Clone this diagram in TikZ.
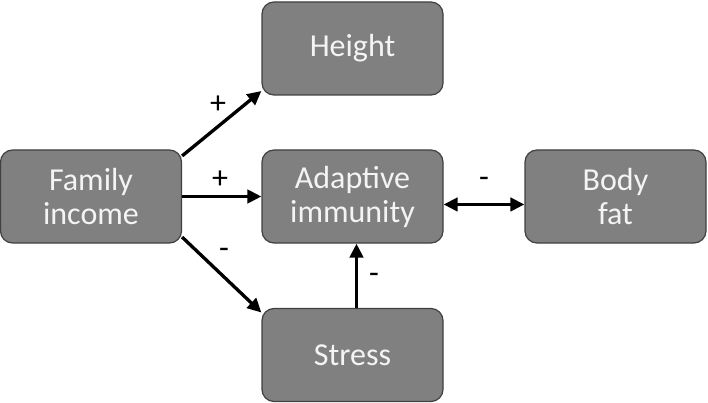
\documentclass[tikz,border=0pt]{standalone}
\usepackage{fontspec}
\setmainfont{Carlito}
\usetikzlibrary{arrows.meta}
\definecolor{boxgray}{HTML}{808080}
\definecolor{boxline}{HTML}{404040}
\definecolor{boxtext}{HTML}{F4F4F4}
\newcommand{\w}{135.75pt}

\begin{document}
\begin{tikzpicture}[x=0.75pt, y=-0.75pt,
    box/.style={draw=boxline, fill=boxgray, rounded corners=9pt, line width=0.9pt, minimum width=\w, minimum height=69.75pt, align=center, text=boxtext, font=\fontsize{24}{25.5}\selectfont, inner sep=0pt},
    link/.style={line width=2.5pt, -{Triangle[length=10.5pt,width=10pt]}},
    sign/.style={font=\fontsize{24}{26}\selectfont}]
    \useasboundingbox (0,0) rectangle (708,403);
    % boxes
    \node[box] (income) at (91,196.5) {Family\\income};
    \node[box] (height) at (352.5,48.5) {Height};
    \node[box] (immunity) at (352.5,196.5) {Adaptive\\immunity};
    \node[box] (bodyfat) at (615.5,196.5) {Body\\fat};
    \node[box] (stress) at (352.5,355) {Stress};

    % arrows
    \draw[link] (income.24) -- (height.205);
    \draw[link] (income.east) -- (immunity.west);
    \draw[link] (income.-24) -- (stress.155);
    \draw[link, {Triangle[length=10.5pt,width=10pt]}-{Triangle[length=10.5pt,width=10pt]}] (immunity.-5) -- (bodyfat.185);
    \draw[link] ([xshift=3pt]stress.north) -- ([xshift=3pt]immunity.south);

    % signs
    \node[sign] (s1) at (218,105) {+};
    \node[sign] (s2) at (220,180) {+};
    \node[sign] (s3) at (224,253) {-};
    \node[sign] (s4) at (484,182) {-};
    \node[sign] (s5) at (374,278) {-};
\end{tikzpicture}
\end{document}
